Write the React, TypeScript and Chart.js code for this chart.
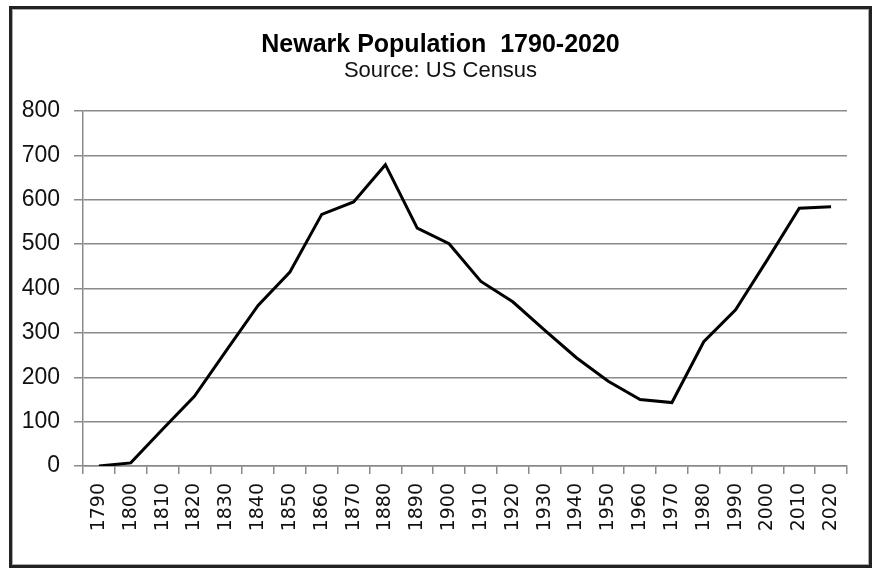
import React, { useEffect, useRef } from "react";
import { Chart, registerables } from "chart.js";

Chart.register(...registerables);

const years = [
  "1790", "1800", "1810", "1820", "1830", "1840", "1850", "1860", "1870", "1880",
  "1890", "1900", "1910", "1920", "1930", "1940", "1950", "1960", "1970", "1980",
  "1990", "2000", "2010", "2020",
];

const population = [
  0, 7, 83, 157, 260, 362, 437, 567, 595, 679,
  536, 501, 416, 370, 306, 244, 191, 150, 143, 280,
  352, 465, 581, 584,
];

const yTickMin = 0;
const yTickMax = 800;
const yTickStep = 100;

const titleText = "Newark Population  1790-2020";
const subtitleText = "Source: US Census";

const GRID = "#8a8a8a";

export default function App() {
  const ref = useRef<HTMLCanvasElement | null>(null);

  useEffect(() => {
    if (!ref.current) return;
    const chart = new Chart(ref.current, {
      type: "line",
      data: {
        labels: years,
        datasets: [
          {
            data: population,
            borderColor: "#000000",
            borderWidth: 3,
            pointRadius: 0,
            tension: 0,
            fill: false,
            yAxisID: "y",
          },
        ],
      },
      options: {
        responsive: false,
        animation: false,
        devicePixelRatio: 1,
        layout: { padding: { top: 10, left: 18, right: 12, bottom: 0 } },
        plugins: {
          legend: { display: false },
          tooltip: { enabled: false },
          title: {
            display: true,
            text: titleText,
            color: "#000",
            font: { family: "'Liberation Sans', Arial, sans-serif", size: 25, weight: "bold", lineHeight: 1 },
            padding: { top: 23, bottom: 0 },
          },
          subtitle: {
            display: true,
            text: subtitleText,
            color: "#111",
            font: { family: "'Liberation Sans', Arial, sans-serif", size: 22, weight: "normal", lineHeight: 1 },
            padding: { top: 2, bottom: 29 },
          },
        },
        scales: {
          x: {
            offset: true,
            grid: {
              offset: true,
              drawOnChartArea: false,
              color: GRID,
              lineWidth: 1.5,
              tickLength: 8,
            },
            border: { display: true, color: GRID, width: 1.5 },
            ticks: {
              autoSkip: false,
              maxRotation: 90,
              minRotation: 90,
              color: "#111",
              padding: 9,
              font: { family: "'DejaVu Sans', sans-serif", size: 19 },
            },
            afterFit: (s: any) => {
              s.height = 102;
            },
          },
          y: {
            min: yTickMin,
            max: yTickMax,
            ticks: {
              stepSize: yTickStep,
              color: "#111",
              padding: 14,
              font: { family: "'Liberation Sans', Arial, sans-serif", size: 23 },
            },
            grid: { color: GRID, lineWidth: 1.5, tickLength: 9 },
            border: { display: true, color: GRID, width: 1.5 },
            afterFit: (s: any) => {
              s.width = 65;
            },
          },
          yR: {
            position: "right",
            display: true,
            grid: { display: false },
            border: { display: false },
            ticks: { display: false },
            afterFit: (s: any) => {
              s.width = 16;
            },
          },
        },
      },
    });
    return () => chart.destroy();
  }, []);

  return (
    <div>
      <canvas
        ref={ref}
        width={875}
        height={568}
        style={{ position: "absolute", left: 0, top: 0, width: 875, height: 568 }}
      />
      <div
        style={{
          position: "absolute",
          left: 9,
          top: 6,
          width: 863,
          height: 562,
          boxSizing: "border-box",
          border: "3px solid #222",
          boxShadow: "inset 0 0 0 1px #aaa",
          pointerEvents: "none",
        }}
      />
    </div>
  );
}
